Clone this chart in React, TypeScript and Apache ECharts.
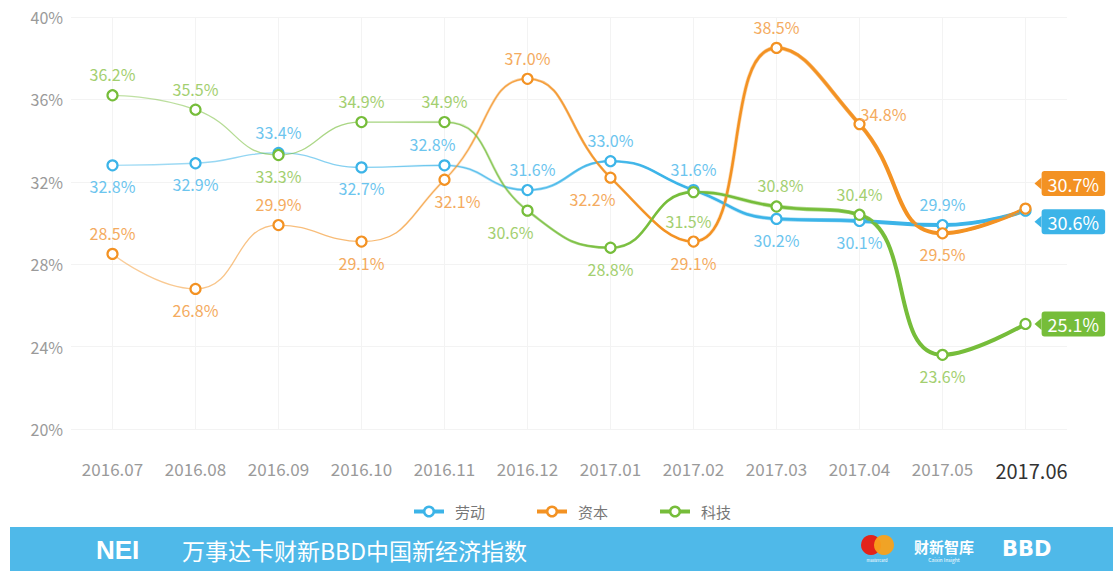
import React, { useEffect, useRef } from "react";
import * as echarts from "echarts";

const months = ["2016.07", "2016.08", "2016.09", "2016.10", "2016.11", "2016.12", "2017.01", "2017.02", "2017.03", "2017.04", "2017.05", "2017.06"];
const labor = [32.8, 32.9, 33.4, 32.7, 32.8, 31.6, 33.0, 31.6, 30.2, 30.1, 29.9, 30.6];
const capital = [28.5, 26.8, 29.9, 29.1, 32.1, 37.0, 32.2, 29.1, 38.5, 34.8, 29.5, 30.7];
const tech = [36.2, 35.5, 33.3, 34.9, 34.9, 30.6, 28.8, 31.5, 30.8, 30.4, 23.6, 25.1];
const seriesNames = ["劳动", "资本", "科技"];
const yMin = 20;
const yMax = 40;
const yStep = 4;

// label placement (style only)
const laborPos = ["bottom", "bottom", "top", "bottom", "top", "top", "top", "top", "bottom", "bottom", "top", "tag"];
const laborOff = [[0, 0], [0, 0], [0, 0], [0, 0], [-12, 0], [5, 0], [0, 0], [0, 0], [0, 0], [0, 0], [0, 0], [0, 11]];
const capitalPos = ["top", "bottom", "top", "bottom", "bottom", "top", "bottom", "bottom", "top", "right", "bottom", "tag"];
const capitalOff = [[0, 0], [0, 0], [0, 0], [0, 0], [13, 0], [0, 0], [-18, 0], [0, 0], [0, 0], [-12, -10], [0, 0], [0, -25]];
const techPos = ["top", "top", "bottom", "top", "top", "bottom", "bottom", "bottom", "top", "top", "bottom", "tag"];
const techOff = [[0, 0], [0, 0], [0, 0], [0, 0], [0, 0], [-17, 0], [0, 0], [-5, 8], [4, 0], [0, 0], [0, 0], [0, 0]];

const FONT = "'Noto Sans CJK SC', 'Noto Sans', sans-serif";

const palette = [
  { line: "#3cb4e8", label: "#6cc5ee", rgb: "60,180,232" },
  { line: "#f39223", label: "#f4ab60", rgb: "243,146,35" },
  { line: "#76bd3a", label: "#a3cf70", rgb: "118,189,58" },
];

function grad(rgb: string, stops: [number, number][]) {
  return new echarts.graphic.LinearGradient(
    0, 0, 1, 0,
    stops.map(([o, a]) => ({ offset: o, color: `rgba(${rgb},${a})` }))
  );
}

function fmt(v: number) {
  return v.toFixed(1) + "%";
}

export default function App() {
  const ref = useRef<HTMLDivElement>(null);

  useEffect(() => {
    if (!ref.current) return;
    const chart = echarts.init(ref.current, undefined, { renderer: "svg" });
    const datasets = [labor, capital, tech];
    const positions = [laborPos, capitalPos, techPos];
    const offsets = [laborOff, capitalOff, techOff];

    const series: any[] = [];
    datasets.forEach((vals, si) => {
      const p = palette[si];
      const data = vals.map((v, i) => {
        const pos = positions[si][i];
        if (pos === "tag") {
          return {
            value: v,
            label: {
              show: true,
              position: "right",
              distance: 10,
              offset: offsets[si][i],
              color: "#fff",
              fontSize: 18,
              fontFamily: FONT,
              backgroundColor: p.line,
              padding: [4, 6, 3, 6],
              borderRadius: 3,
              formatter: (o: any) => fmt(o.value),
            },
          };
        }
        return {
          value: v,
          label: {
            show: true,
            position: pos,
            distance: 7,
            offset: offsets[si][i],
          },
        };
      });
      series.push({
        name: seriesNames[si],
        type: "line",
        smooth: 0.5,
        z: 5,
        data,
        symbol: "circle",
        symbolSize: 10,
        itemStyle: { color: "#fff", borderColor: p.line, borderWidth: 2.2 },
        lineStyle: { width: 1.3, color: grad(p.rgb, [[0, 0.45], [0.5, 0.8], [1, 1]]) },
        label: {
          show: true,
          color: p.label,
          fontSize: 16,
          fontFamily: FONT,
          formatter: (o: any) => fmt(o.value),
        },
        emphasis: { disabled: true },
      });
      series.push({
        name: seriesNames[si] + "_mid",
        type: "line",
        smooth: 0.5,
        z: 3,
        silent: true,
        data: vals,
        symbol: "none",
        lineStyle: { width: 2.6, color: grad(p.rgb, [[0, 0], [0.3, 0], [0.6, 1], [1, 1]]) },
        emphasis: { disabled: true },
      });
      series.push({
        name: seriesNames[si] + "_thick",
        type: "line",
        smooth: 0.5,
        z: 4,
        silent: true,
        data: vals,
        symbol: "none",
        lineStyle: { width: 4, color: grad(p.rgb, [[0, 0], [0.6, 0], [0.85, 1], [1, 1]]) },
        emphasis: { disabled: true },
      });
    });

    const banner: any[] = [
      { id: "bar", type: "rect", shape: { x: 10, y: 527, width: 1103, height: 44 }, style: { fill: "#4fb9e9" }, silent: true },
      { id: "nei", type: "text", x: 96, y: 550, style: { text: "NEI", fill: "#fff", font: "bold 26px 'Liberation Sans', Arial, sans-serif", textVerticalAlign: "middle" } },
      { id: "title", type: "text", x: 182, y: 550, style: { text: "万事达卡财新BBD中国新经济指数", fill: "#fff", font: `23px ${FONT}`, textVerticalAlign: "middle" } },
      { id: "mc1", type: "circle", shape: { cx: 871, cy: 545, r: 10 }, style: { fill: "#e2231a" } },
      { id: "mc2", type: "circle", shape: { cx: 884, cy: 545, r: 10 }, style: { fill: "#f9a11b", opacity: 0.95 } },
      { id: "mct", type: "text", x: 877, y: 560, style: { text: "mastercard", fill: "#fff", font: `4px ${FONT}`, textAlign: "center", textVerticalAlign: "middle" } },
      { id: "cx", type: "text", x: 914, y: 546, style: { text: "财新智库", fill: "#fff", font: `bold 15px ${FONT}`, textVerticalAlign: "middle" } },
      { id: "cxe", type: "text", x: 944, y: 559, style: { text: "Caixin Insight", fill: "#fff", font: `5px ${FONT}`, textAlign: "center", textVerticalAlign: "middle" } },
      { id: "bbd", type: "text", x: 1002, y: 549, style: { text: "BBD", fill: "#fff", font: "900 21px 'DejaVu Sans', sans-serif", textVerticalAlign: "middle" } },
    ];

    chart.setOption({
      animation: false,
      backgroundColor: "#fff",
      textStyle: { fontFamily: FONT },
      grid: { left: 71, right: 46, top: 17, bottom: 142 },
      legend: {
        top: 499,
        left: 407,
        itemGap: 50,
        itemWidth: 30,
        itemHeight: 12,
        textStyle: { color: "#777", fontSize: 15, fontFamily: FONT, padding: [0, 0, 0, 6] },
        data: seriesNames.map((n, i) => ({
          name: n,
          itemStyle: { color: "#fff", borderColor: palette[i].line, borderWidth: 2.5 },
          lineStyle: { color: palette[i].line, width: 4 },
        })),
      },
      xAxis: {
        type: "category",
        data: months,
        boundaryGap: true,
        axisLine: { show: false },
        axisTick: { show: false, alignWithLabel: true },
        splitLine: { show: true, alignWithLabel: true, lineStyle: { color: "#f3f3f3", width: 1 } },
        axisLabel: {
          interval: 0,
          margin: 31,
          color: "#9a9a9a",
          fontSize: 17,
          fontFamily: FONT,
          formatter: (v: string, i: number) => (i === months.length - 1 ? `{last|${v}}` : v),
          rich: { last: { color: "#333", fontSize: 20, fontFamily: FONT, padding: [0, 0, 0, 12] } },
        },
      },
      yAxis: {
        type: "value",
        min: yMin,
        max: yMax,
        interval: yStep,
        axisLine: { show: false },
        axisTick: { show: false },
        splitLine: { lineStyle: { color: "#f3f3f3", width: 1 } },
        axisLabel: { color: "#9a9a9a", fontSize: 16, fontFamily: FONT, margin: 8, formatter: "{value}%" },
      },
      graphic: { elements: banner },
      series,
    });

    const last = months.length - 1;
    const tagOffsets = [laborOff[last], capitalOff[last], techOff[last]];
    const arrows = datasets.map((vals, si) => {
      const pt = chart.convertToPixel({ xAxisIndex: 0, yAxisIndex: 0 }, [months[last], vals[last]]) as number[];
      const bx = pt[0] + 15 + tagOffsets[si][0];
      const cy = pt[1] + tagOffsets[si][1];
      return {
        id: "arrow" + si,
        type: "polygon",
        shape: { points: [[bx + 1, cy - 6], [bx - 6, cy], [bx + 1, cy + 6]] },
        style: { fill: palette[si].line },
        z: 10,
        silent: true,
      };
    });
    chart.setOption({ graphic: { elements: arrows } });

    return () => chart.dispose();
  }, []);

  return <div ref={ref} style={{ position: "fixed", left: 0, top: 0, width: 1113, height: 571 }} />;
}
